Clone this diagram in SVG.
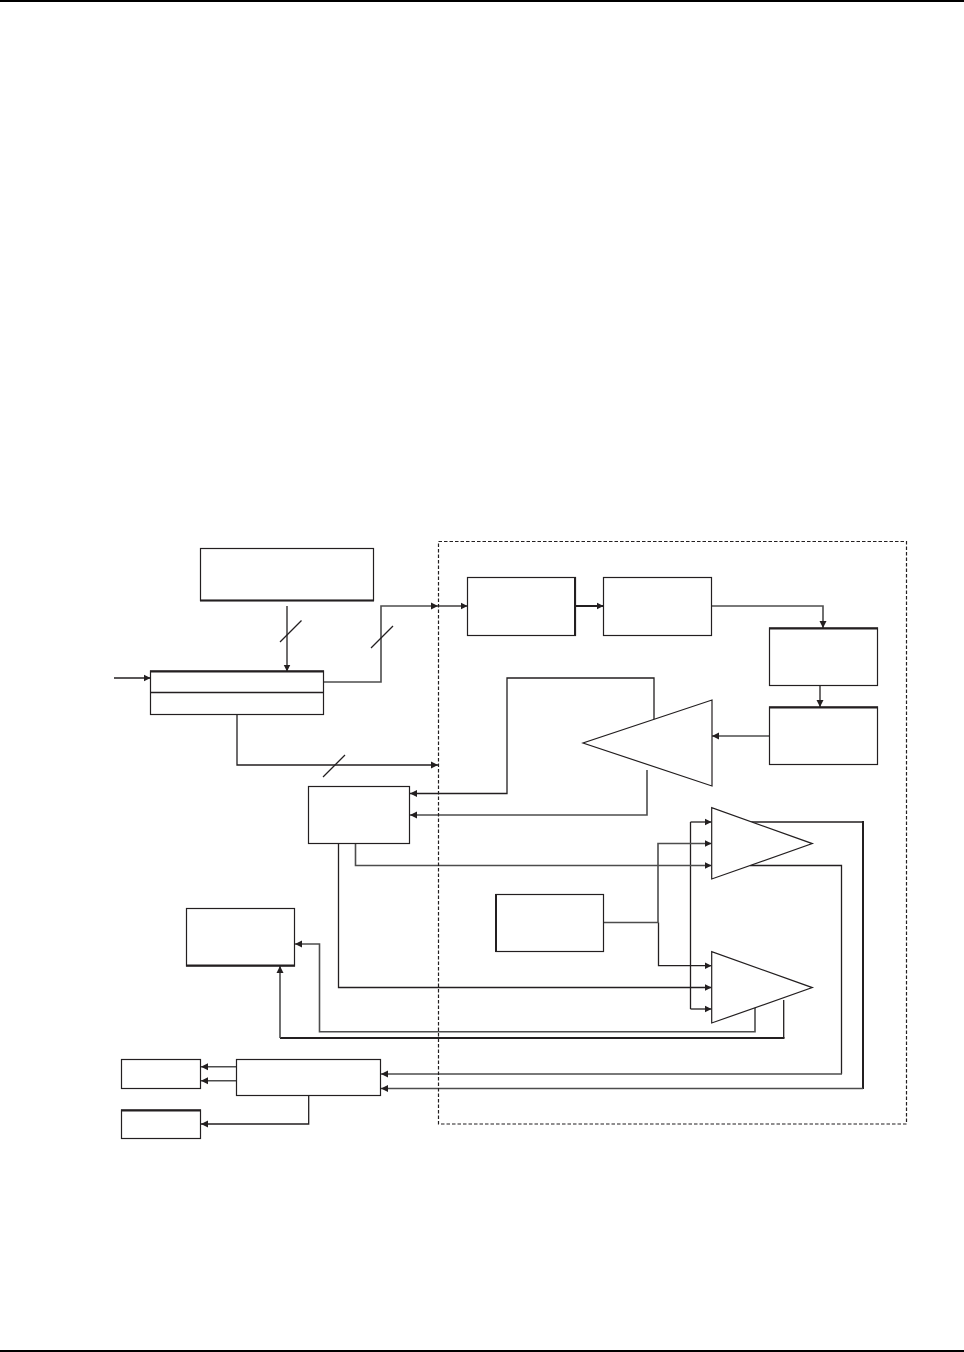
<svg xmlns="http://www.w3.org/2000/svg" width="964" height="1352" viewBox="0 0 964 1352">
<style>
.box,.tri{fill:#fff;stroke:#231f20;stroke-width:1.2}
.thick{stroke:#231f20;stroke-width:2;fill:none}
.c{fill:none;stroke:#231f20;stroke-width:1.3}
.g{fill:none;stroke:#4d4d4d;stroke-width:1.6}
.b{fill:none;stroke:#231f20;stroke-width:2}
.a{marker-end:url(#ah)}
.frame{fill:none;stroke:#231f20;stroke-width:1.2;stroke-dasharray:3.5 2}
</style>
<defs>
<marker id="ah" markerUnits="userSpaceOnUse" markerWidth="8" markerHeight="8" refX="7" refY="4" orient="auto"><path d="M0 .5L7 4L0 7.5Z" fill="#231f20"/></marker>
</defs>
<rect width="964" height="1352" fill="#fff"/>
<rect x="0" y="0" width="964" height="2" fill="#000"/>
<rect x="0" y="1350" width="964" height="2" fill="#000"/>
<g id="connectors">
<path class="c a" d="M287 606V671.5"/>
<path class="c" d="M280 642L301.5 620.5"/>
<path class="c a" d="M114 678H150.5"/>
<path class="g a" d="M323 682H381V606H438"/>
<path class="c a" d="M438 606H467.5"/>
<path class="c" d="M371 648L393 626"/>
<path class="c a" d="M237 714V765H438"/>
<path class="c" d="M323 777L345 755"/>
<path class="b a" d="M575 606H603.5"/>
<path class="g a" d="M711.5 606H823V628"/>
<path class="c a" d="M820 685.5V707"/>
<path class="g a" d="M769.5 736H712"/>
<path class="c a" d="M654 720V678H507V793.5H410"/>
<path class="g a" d="M647 770V815H410"/>
<path class="c a" d="M690.5 822H711.5"/>
<path class="c a" d="M690.5 1009H711.5"/>
<path class="c" d="M690.5 822V1009"/>
<path class="g a" d="M658 922.5V843.5H711.5"/>
<path class="c a" d="M658.5 922.5V965.7H711.5"/>
<path class="g" d="M604 922.5H658.5"/>
<path class="g a" d="M355.5 843V865.5H711.5"/>
<path class="c a" d="M338.5 843V987.5H711.5"/>
<path class="c" d="M750 822H863"/>
<path class="thick" d="M863 821V1089"/>
<path class="g a" d="M863 1088.5H381"/>
<path class="c" d="M750 865.5H841.5V1074"/>
<path class="g a" d="M842 1074H381"/>
<path class="g a" d="M755 1005V1031.7H319.5V944H295"/>
<path class="c" d="M783.7 1000V1038"/>
<path class="b" d="M784.5 1038H280"/>
<path class="g a" d="M280 1038V966"/>
<path class="g a" d="M237 1066.7H201"/>
<path class="g a" d="M237 1080.7H201"/>
<path class="c a" d="M308.7 1095V1124H201"/>
</g>
<rect id="boundary" class="frame" x="438.5" y="541.5" width="468" height="582.5"/>
<g id="box-a"><rect class="box" x="200.5" y="548.5" width="173" height="52"/><path class="thick" d="M200 600.5H374"/></g>
<g id="box-b"><rect class="box" x="150.5" y="671" width="173" height="43.5"/><path class="c" d="M150.5 692.5H323.5"/><path class="thick" d="M150 671.5H324"/></g>
<g id="box-c"><rect class="box" x="308.5" y="786.5" width="101" height="57"/></g>
<g id="box-d"><rect class="box" x="467.5" y="577.5" width="108" height="58"/><path class="thick" d="M575 577V636"/></g>
<g id="box-e"><rect class="box" x="603.5" y="577.5" width="108" height="58"/></g>
<g id="box-f"><rect class="box" x="769.5" y="628" width="108" height="57.5"/><path class="thick" d="M769 628.5H878"/></g>
<g id="box-g"><rect class="box" x="769.5" y="707" width="108" height="57.5"/><path class="thick" d="M769 707.5H878"/></g>
<g id="tri-left"><path class="tri" d="M712 700V786L583 743Z"/></g>
<g id="amp-1"><path class="tri" d="M711.7 807.7V879L812.3 843.6Z"/></g>
<g id="amp-2"><path class="tri" d="M711.7 951.7V1023L812.3 987.6Z"/></g>
<g id="box-h"><rect class="box" x="496" y="894.5" width="107.5" height="57"/><path class="thick" d="M496 894V952"/></g>
<g id="box-i"><rect class="box" x="186.5" y="908.5" width="108" height="57.5"/><path class="thick" d="M186 965.5H295"/></g>
<g id="box-j"><rect class="box" x="121.5" y="1059.5" width="79" height="29"/></g>
<g id="box-k"><rect class="box" x="121.5" y="1110" width="79" height="28.5"/><path class="thick" d="M121 1110.5H201"/></g>
<g id="box-l"><rect class="box" x="236.5" y="1059.5" width="144" height="36"/></g>
</svg>
